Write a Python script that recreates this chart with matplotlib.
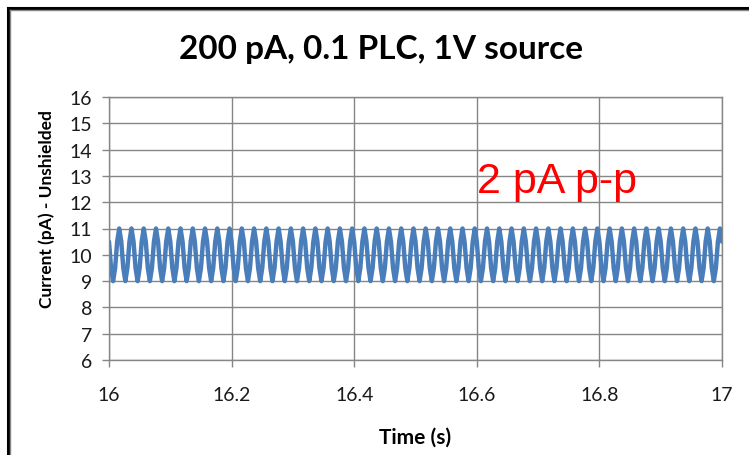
import matplotlib
matplotlib.use("Agg")
import matplotlib.pyplot as plt
from matplotlib.lines import Line2D
import numpy as np

# chart text
title = "200 pA, 0.1 PLC, 1V source"
x_label = "Time (s)"
y_label = "Current (pA) - Unshielded"
note = "2 pA p-p"

# time window of the record (s) and axis ticks
t_start, t_end = 16.0, 17.0
x_ticks = [16, 16.2, 16.4, 16.6, 16.8, 17]
x_tick_labels = ["16", "16.2", "16.4", "16.6", "16.8", "17"]
y_ticks = [6, 7, 8, 9, 10, 11, 12, 13, 14, 15, 16]

# current samples (pA), evenly spaced in time
current = [
    10.5, 9.5, 9.0, 9.5, 10.5, 11.0, 10.5, 9.5, 9.0, 9.5, 10.5, 11.0,
    10.5, 9.5, 9.0, 9.5, 10.5, 11.0, 10.5, 9.5, 9.0, 9.5, 10.5, 11.0,
    10.5, 9.5, 9.0, 9.5, 10.5, 11.0, 10.5, 9.5, 9.0, 9.5, 10.5, 11.0,
    10.5, 9.5, 9.0, 9.5, 10.5, 11.0, 10.5, 9.5, 9.0, 9.5, 10.5, 11.0,
    10.5, 9.5, 9.0, 9.5, 10.5, 11.0, 10.5, 9.5, 9.0, 9.5, 10.5, 11.0,
    10.5, 9.5, 9.0, 9.5, 10.5, 11.0, 10.5, 9.5, 9.0, 9.5, 10.5, 11.0,
    10.5, 9.5, 9.0, 9.5, 10.5, 11.0, 10.5, 9.5, 9.0, 9.5, 10.5, 11.0,
    10.5, 9.5, 9.0, 9.5, 10.5, 11.0, 10.5, 9.5, 9.0, 9.5, 10.5, 11.0,
    10.5, 9.5, 9.0, 9.5, 10.5, 11.0, 10.5, 9.5, 9.0, 9.5, 10.5, 11.0,
    10.5, 9.5, 9.0, 9.5, 10.5, 11.0, 10.5, 9.5, 9.0, 9.5, 10.5, 11.0,
    10.5, 9.5, 9.0, 9.5, 10.5, 11.0, 10.5, 9.5, 9.0, 9.5, 10.5, 11.0,
    10.5, 9.5, 9.0, 9.5, 10.5, 11.0, 10.5, 9.5, 9.0, 9.5, 10.5, 11.0,
    10.5, 9.5, 9.0, 9.5, 10.5, 11.0, 10.5, 9.5, 9.0, 9.5, 10.5, 11.0,
    10.5, 9.5, 9.0, 9.5, 10.5, 11.0, 10.5, 9.5, 9.0, 9.5, 10.5, 11.0,
    10.5, 9.5, 9.0, 9.5, 10.5, 11.0, 10.5, 9.5, 9.0, 9.5, 10.5, 11.0,
    10.5, 9.5, 9.0, 9.5, 10.5, 11.0, 10.5, 9.5, 9.0, 9.5, 10.5, 11.0,
    10.5, 9.5, 9.0, 9.5, 10.5, 11.0, 10.5, 9.5, 9.0, 9.5, 10.5, 11.0,
    10.5, 9.5, 9.0, 9.5, 10.5, 11.0, 10.5, 9.5, 9.0, 9.5, 10.5, 11.0,
    10.5, 9.5, 9.0, 9.5, 10.5, 11.0, 10.5, 9.5, 9.0, 9.5, 10.5, 11.0,
    10.5, 9.5, 9.0, 9.5, 10.5, 11.0, 10.5, 9.5, 9.0, 9.5, 10.5, 11.0,
    10.5, 9.5, 9.0, 9.5, 10.5, 11.0, 10.5, 9.5, 9.0, 9.5, 10.5, 11.0,
    10.5, 9.5, 9.0, 9.5, 10.5, 11.0, 10.5, 9.5, 9.0, 9.5, 10.5, 11.0,
    10.5, 9.5, 9.0, 9.5, 10.5, 11.0, 10.5, 9.5, 9.0, 9.5, 10.5, 11.0,
    10.5, 9.5, 9.0, 9.5, 10.5, 11.0, 10.5, 9.5, 9.0, 9.5, 10.5, 11.0,
    10.5, 9.5, 9.0, 9.5, 10.5, 11.0, 10.5, 9.5, 9.0, 9.5, 10.5, 11.0,
    10.5,
]

time = np.linspace(t_start, t_end, len(current))

grid_gray = "#868686"
line_blue = "#4a7ebb"
label_font = "Lato"

fig = plt.figure(figsize=(7.49, 4.56), dpi=100)
ax = fig.add_axes([109 / 749, 1 - 361 / 456, 613 / 749, 263 / 456])

ax.plot(time, current, color=line_blue, linewidth=3.2,
        solid_joinstyle="round", solid_capstyle="round")

ax.set_xlim(t_start, t_end)
ax.set_ylim(6, 16)
ax.set_xticks(x_ticks)
ax.set_xticklabels(x_tick_labels)
ax.set_yticks(y_ticks)
ax.grid(True, color=grid_gray, linewidth=1.0)
ax.set_axisbelow(True)
for side in ax.spines.values():
    side.set_color(grid_gray)
    side.set_linewidth(1.0)
ax.tick_params(axis="both", colors=grid_gray, length=5, width=1.0,
               labelcolor="#1a1a1a", labelsize=14)
ax.tick_params(axis="y", pad=7)
ax.tick_params(axis="x", pad=14)
for lab in ax.get_xticklabels() + ax.get_yticklabels():
    lab.set_family(label_font)

ax.set_xlabel(x_label, fontsize=15, fontweight="bold", family=label_font,
              va="center")
ax.xaxis.set_label_coords(0.5, (361 - 438) / 263)
ax.set_ylabel(y_label, fontsize=12.5, fontweight="bold", family=label_font,
              va="center")
ax.yaxis.set_label_coords((47 - 109) / 613, (361 - 209) / 263)

ax.text(16.6, 12.4, note, color="red", fontsize=31, family="Liberation Sans",
        va="baseline", ha="left")

fig.text(381 / 749, 1 - 50 / 456, title, fontsize=24, fontweight="bold",
         family=label_font, ha="center", va="center")

# chart frame: black edge with a thin gray inner edge (top and left only)
fig.add_artist(Line2D([8 / 749, 1], [1 - 9 / 456, 1 - 9 / 456],
                      color="black", linewidth=2.2, transform=fig.transFigure))
fig.add_artist(Line2D([8 / 749, 8 / 749], [0, 1 - 9 / 456],
                      color="black", linewidth=2.2, transform=fig.transFigure))
fig.add_artist(Line2D([9.5 / 749, 1], [1 - 10.8 / 456, 1 - 10.8 / 456],
                      color=grid_gray, linewidth=1.0, transform=fig.transFigure))
fig.add_artist(Line2D([9.8 / 749, 9.8 / 749], [0, 1 - 10.8 / 456],
                      color=grid_gray, linewidth=1.0, transform=fig.transFigure))

fig.savefig("out.png", dpi=100)
